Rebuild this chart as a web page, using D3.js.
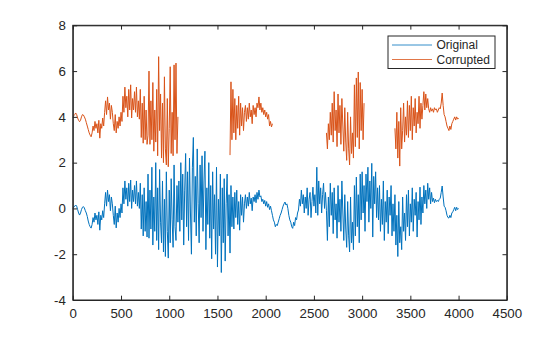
<!DOCTYPE html>
<html><head><meta charset="utf-8">
<script src="https://cdn.jsdelivr.net/npm/d3@7"></script>
<style>body{margin:0;background:#fff;} svg{display:block;font-family:"Liberation Sans",Arial,sans-serif;}</style>
</head><body><svg id="c" width="560" height="337"></svg>
<script>
const sampleStep = 10;
const seriesNames = ["Original", "Corrupted"];
const xTicks = [0, 500, 1000, 1500, 2000, 2500, 3000, 3500, 4000, 4500];
const yTicks = [-4, -2, 0, 2, 4, 6, 8];

const original = [
 0.0, 0.05, 0.1, 0.15, 0.1, -0.05, -0.2, -0.29, -0.2, -0.05,
 0.05, 0.08, 0.02, -0.1, -0.2, -0.35, -0.55, -0.7, -0.8, -0.86,
 -0.7, -0.4, -0.6, -0.2, -0.5, -0.3, -0.7, -0.15, -0.95, -0.3,
 -0.5, -0.1, -0.4, 0.2, 0.7, 0.1, 0.8, 0.3, 0.6, -0.1,
 0.5, 0.2, -0.3, -0.7, 0.1, -0.85, -0.2, -0.6, 0.0, -0.4,
 0.2, -0.2, 0.9, 0.2, 1.2, 0.4, 0.9, 0.1, 1.1, 0.3,
 1.24, 0.0, 0.8, 0.3, 1.0, 0.2, 1.2, 0.1, 0.7, 0.0,
 1.1, -0.9, 0.6, -1.2, 0.9, -1.0, 0.3, -1.25, 1.5, -1.3,
 0.8, -0.9, 1.8, -1.6, 0.5, -1.0, 2.0, -1.4, 0.9, -1.8,
 1.7, -0.6, -1.5, 1.2, -1.9, 0.4, -2.1, 1.6, -1.0, -2.17,
 0.8, -1.5, 1.3, -0.5, -1.7, 1.9, -0.8, -1.4, 1.0, -0.6,
 1.2, -1.0, 2.0, -0.5, 1.5, -1.6, 0.8, 2.4, -0.8, 1.6,
 -1.4, 2.2, -0.2, -2.0, 1.8, 3.1, -0.6, 1.4, -1.2, 2.6,
 0.2, -1.5, 1.9, -0.4, 2.3, -1.0, 1.2, 2.5, -1.8, 0.9,
 -0.7, 2.0, -1.3, 1.0, -2.2, 1.6, -0.9, 0.6, -2.0, 1.8,
 -2.56, 0.4, -1.2, 1.5, -2.8, 0.9, -1.5, 1.3, -2.3, 0.2,
 1.5, -1.2, 0.6, -1.95, 1.0, -0.8, 0.5, -0.9, 0.7, -0.4,
 0.8, -0.7, 0.3, -0.95, 0.6, -0.3, 0.5, -0.6, 0.2, 0.6,
 0.0, 0.5, 0.1, 0.7, 0.2, 0.45, -0.1, 0.5, 0.3, 0.6,
 0.25, 0.7, 0.4, 0.8, 0.5, 0.55, 0.3, 0.4, 0.2, 0.35,
 0.1, 0.3, 0.05, 0.2, -0.05, 0.1, -0.1, -0.3, -0.5, -0.6,
 -0.8, -0.7, -0.75, -0.6, -0.45, -0.3, -0.2, -0.05, 0.1, 0.2,
 0.28, 0.15, 0.2, 0.0, -0.3, -0.5, -0.6, -0.8, -0.87, -0.6,
 -0.75, -0.4, -0.5, -0.2, -0.07, 0.4, 0.1, 0.8, 0.2, 0.6,
 -0.2, 0.5, 0.0, 0.9, -0.3, 0.4, 0.7, -0.4, 0.3, 0.93,
 0.1, 0.6, -0.2, 1.8, -0.3, 1.2, 0.2, 0.9, -0.2, 0.6,
 1.1, 0.0, 0.7, -0.1, -1.4, 0.5, -0.8, 1.1, -0.3, 0.7,
 -1.1, 0.9, -0.5, 0.2, -1.3, 1.0, -0.6, 0.4, -1.0, 1.2,
 -0.2, -1.4, 0.6, -0.9, -1.7, 0.3, -1.2, -1.9, 0.5, -1.5,
 -0.6, -1.8, 1.0, -1.2, 1.37, -0.8, 0.6, -1.5, 1.5, -0.5,
 1.6, -0.2, 1.0, -1.0, 1.5, 0.3, 1.8, -0.6, 1.2, 0.0,
 1.97, -1.25, 1.4, 0.2, 1.6, -0.4, 0.9, -0.5, 1.0, -1.0,
 0.4, -0.7, 1.2, -1.4, 0.3, -0.6, 0.8, -1.1, 0.5, -0.3,
 1.0, -1.2, 0.2, -1.0, 0.6, -1.6, -0.3, -2.1, 0.3, -1.5,
 -0.8, -1.8, 0.5, -1.0, -0.2, -1.4, 0.6, -0.8, 0.8, -1.2,
 0.2, -0.6, 0.9, -1.0, 0.4, -0.3, 0.7, -1.25, 0.3, -0.5,
 0.93, -0.7, 0.5, -0.2, 1.0, 0.2, 0.8, 0.0, 1.1, 0.4,
 0.9, 0.2, 0.7, 0.3, 0.45, 0.25, 0.4, 0.3, 0.35, 0.3,
 0.4, 0.45, 0.7, 0.98, 0.5, 0.1, 0.05, -0.1, -0.3, -0.4,
 -0.42, -0.3, -0.4, -0.2, -0.15, -0.05, 0.05, -0.1, 0.05, -0.05,
 0.0
];

// Corrupted signal: present only in four stretches (gaps elsewhere)
const corruptedStarts = [0, 1630, 2630, 3340];
const corruptedA = [
 4.0, 4.05, 4.1, 4.17, 4.1, 3.95, 3.85, 3.79, 3.85, 4.0,
 4.1, 4.08, 4.0, 3.9, 3.75, 3.6, 3.45, 3.3, 3.2, 3.13,
 3.3, 3.6, 3.4, 3.8, 3.5, 3.7, 3.3, 3.85, 3.07, 3.7,
 3.5, 3.95, 3.6, 4.2, 4.7, 4.1, 4.87, 4.3, 4.6, 3.9,
 4.5, 4.2, 3.7, 3.4, 4.1, 3.3, 3.8, 3.5, 4.0, 3.6,
 4.2, 3.8, 4.9, 4.2, 5.3, 4.4, 4.9, 4.0, 5.2, 4.3,
 5.4, 3.95, 4.8, 4.3, 5.1, 4.2, 5.3, 4.0, 4.7, 3.9,
 5.2, 3.1, 4.6, 2.85, 4.9, 3.0, 4.3, 2.8, 3.2, 6.0,
 2.8, 4.7, 3.0, 5.5, 2.5, 4.3, 2.9, 5.2, 2.3, 6.63,
 3.4, 5.0, 2.2, 4.6, 2.0, 5.75, 2.6, 1.9, 4.8, 1.82,
 3.5, 6.19, 2.4, 4.2, 2.3, 6.27, 3.0, 6.35, 2.4, 4.0
];
const corruptedB = [
 2.33, 5.53, 3.0, 5.2, 3.3, 4.8, 3.0, 4.5, 3.5, 4.9,
 3.2, 4.6, 3.6, 4.4, 3.4, 4.2, 4.5, 3.8, 4.4, 3.9,
 4.6, 4.0, 4.3, 3.7, 4.5, 4.1, 4.4, 4.0, 4.6, 4.4,
 4.87, 4.3, 4.6, 4.2, 4.4, 4.1, 4.3, 4.0, 4.2, 3.9,
 4.1, 3.6, 3.8, 3.56, 3.7
];
const corruptedC = [
 3.3, 2.6, 3.7, 3.0, 4.2, 3.2, 4.6, 2.9, 5.1, 3.4,
 4.3, 2.7, 5.0, 3.3, 4.5, 2.8, 4.8, 3.6, 2.5, 4.4,
 2.9, 2.1, 4.2, 2.6, 1.9, 4.0, 2.4, 3.3, 2.2, 5.4,
 2.7, 5.7, 3.1, 5.96, 2.6, 5.5, 3.4, 5.2, 3.0, 4.6
];
const corruptedD = [
 3.5, 2.6, 4.2, 2.2, 3.8, 1.85, 4.4, 2.6, 3.4, 4.6,
 2.9, 4.0, 3.2, 4.7, 3.1, 4.5, 3.4, 4.9, 3.0, 4.4,
 3.6, 4.8, 3.3, 4.2, 3.7, 4.9, 3.5, 4.6, 3.9, 4.5,
 5.1, 4.3, 5.0, 4.4, 4.8, 4.35, 4.2, 4.4, 4.25, 4.35,
 4.2, 4.4, 4.3, 4.35, 4.2, 4.3, 4.4, 4.35, 4.6, 5.04,
 4.5, 4.1, 4.0, 3.8, 3.6, 3.5, 3.4, 3.6, 3.45, 3.7,
 3.8, 3.9, 4.0, 3.86, 4.0, 3.9, 3.95
];
const colors = ["#0072BD", "#D95319"];

// ---- build point lists ----
const origPts = original.map((v, i) => ({x: i * sampleStep, y: v}));
const corrPts = original.map((v, i) => ({x: i * sampleStep, y: null}));
[corruptedA, corruptedB, corruptedC, corruptedD].forEach((seg, k) => {
  const s = corruptedStarts[k] / sampleStep;
  seg.forEach((v, j) => { corrPts[s + j].y = v; });
});

const W = 560, H = 337;
const L = 72.8, R = 506.8, T = 25.3, B = 300;
const svg = d3.select("#c");
const x = d3.scaleLinear().domain([0, 4500]).range([L, R]);
const y = d3.scaleLinear().domain([-4, 8]).range([B, T]);
const axisColor = "#262626";

svg.append("rect").attr("x", 0).attr("y", 0).attr("width", W).attr("height", H).attr("fill", "#fff");

svg.append("clipPath").attr("id", "pc").append("rect")
  .attr("x", L).attr("y", T).attr("width", R - L).attr("height", B - T);

const line = d3.line().defined(d => d.y !== null).x(d => x(d.x)).y(d => y(d.y));
const plot = svg.append("g").attr("clip-path", "url(#pc)");
plot.append("path").datum(origPts).attr("d", line).attr("fill", "none")
  .attr("stroke", colors[0]).attr("stroke-width", 1).attr("stroke-linejoin", "round");
plot.append("path").datum(corrPts).attr("d", line).attr("fill", "none")
  .attr("stroke", colors[1]).attr("stroke-width", 1).attr("stroke-linejoin", "round");

// ---- axes (MATLAB style, box on, ticks inside) ----
const tl = 4.3;
const fmt = d => String(d);
const xb = svg.append("g").attr("transform", `translate(0,${B})`)
  .call(d3.axisBottom(x).tickValues(xTicks).tickSizeInner(-tl).tickSizeOuter(0).tickPadding(9).tickFormat(fmt));
const xt = svg.append("g").attr("transform", `translate(0,${T})`)
  .call(d3.axisTop(x).tickValues(xTicks).tickSizeInner(-tl).tickSizeOuter(0).tickFormat(""));
const yl = svg.append("g").attr("transform", `translate(${L},0)`)
  .call(d3.axisLeft(y).tickValues(yTicks).tickSizeInner(-tl).tickSizeOuter(0).tickPadding(7).tickFormat(fmt));
const yr = svg.append("g").attr("transform", `translate(${R},0)`)
  .call(d3.axisRight(y).tickValues(yTicks).tickSizeInner(-tl).tickSizeOuter(0).tickFormat(""));
[xb, xt, yl, yr].forEach(g => {
  g.select(".domain").attr("stroke", axisColor).attr("stroke-width", 1);
  g.selectAll(".tick line").attr("stroke", axisColor).attr("stroke-width", 1);
  g.selectAll("text").attr("fill", axisColor).attr("font-size", "13.3px")
    .attr("font-family", '"Liberation Sans", Arial, sans-serif');
});
xb.selectAll("text").attr("dy", "0.71em");
svg.append("rect").attr("x", L).attr("y", T).attr("width", R - L).attr("height", B - T)
  .attr("fill", "none").attr("stroke", axisColor).attr("stroke-width", 1);

// ---- legend ----
const lg = svg.append("g");
lg.append("rect").attr("x", 388).attr("y", 36).attr("width", 107).attr("height", 32.5)
  .attr("fill", "#fff").attr("stroke", axisColor).attr("stroke-width", 1);
seriesNames.forEach((name, k) => {
  const yy = 45 + k * 14.5;
  lg.append("line").attr("x1", 392).attr("x2", 432).attr("y1", yy).attr("y2", yy)
    .attr("stroke", colors[k]).attr("stroke-width", 0.8);
  lg.append("text").attr("x", 436.5).attr("y", yy + 4.3).text(name)
    .attr("font-size", "12px").attr("fill", axisColor);
});
</script></body></html>
